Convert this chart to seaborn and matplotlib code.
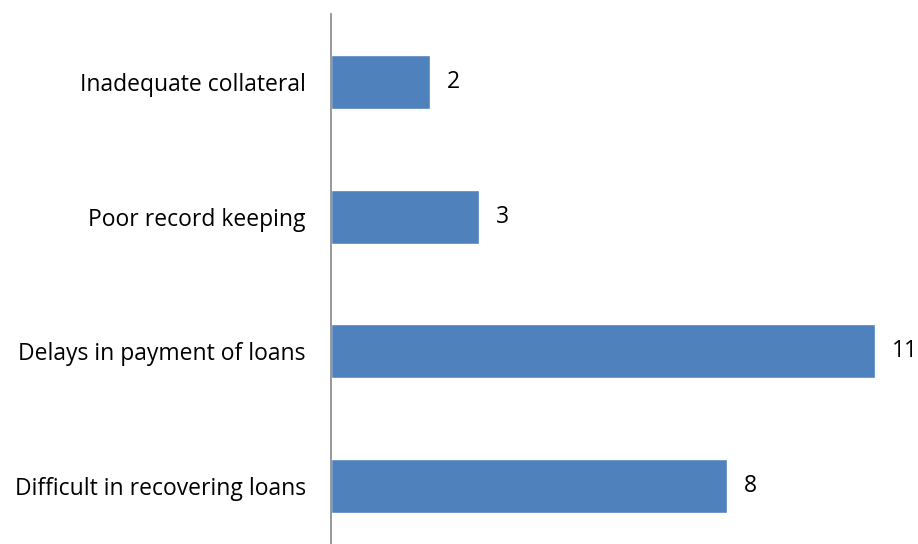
import matplotlib
matplotlib.use("Agg")
import matplotlib.pyplot as plt
import seaborn as sns
import pandas as pd

categories = ["Inadequate collateral", "Poor record keeping",
              "Delays in payment of loans", "Difficult in recovering loans"]
values = [2, 3, 11, 8]

df = pd.DataFrame({"category": categories, "value": values})

sns.set_style("white")
plt.rcParams["font.family"] = ["Open Sans", "DejaVu Sans"]

fig = plt.figure(figsize=(9.18, 5.44), dpi=100)
ax = fig.add_axes([331/918, 0, (918-331)/918, (544-14.5)/544])

sns.barplot(data=df, y="category", x="value", orient="h", color="#4F81BD",
            saturation=1, width=0.4, ax=ax)

ax.set_ylim(3.43, -0.5)
ax.set_xlim(0, 587/49.45)

for i, v in enumerate(values):
    ax.text(v + 0.34, i, str(v), va="center", ha="left", fontsize=16.5, color="black")

ax.set_xlabel("")
ax.set_ylabel("")
ax.set_xticks([])
ax.tick_params(axis="y", length=0, pad=18, labelsize=16.5, labelcolor="black")
for s in ["top", "right", "bottom"]:
    ax.spines[s].set_visible(False)
ax.spines["left"].set_color("#868686")
ax.spines["left"].set_linewidth(1.2)

fig.savefig("out.png", dpi=100)
